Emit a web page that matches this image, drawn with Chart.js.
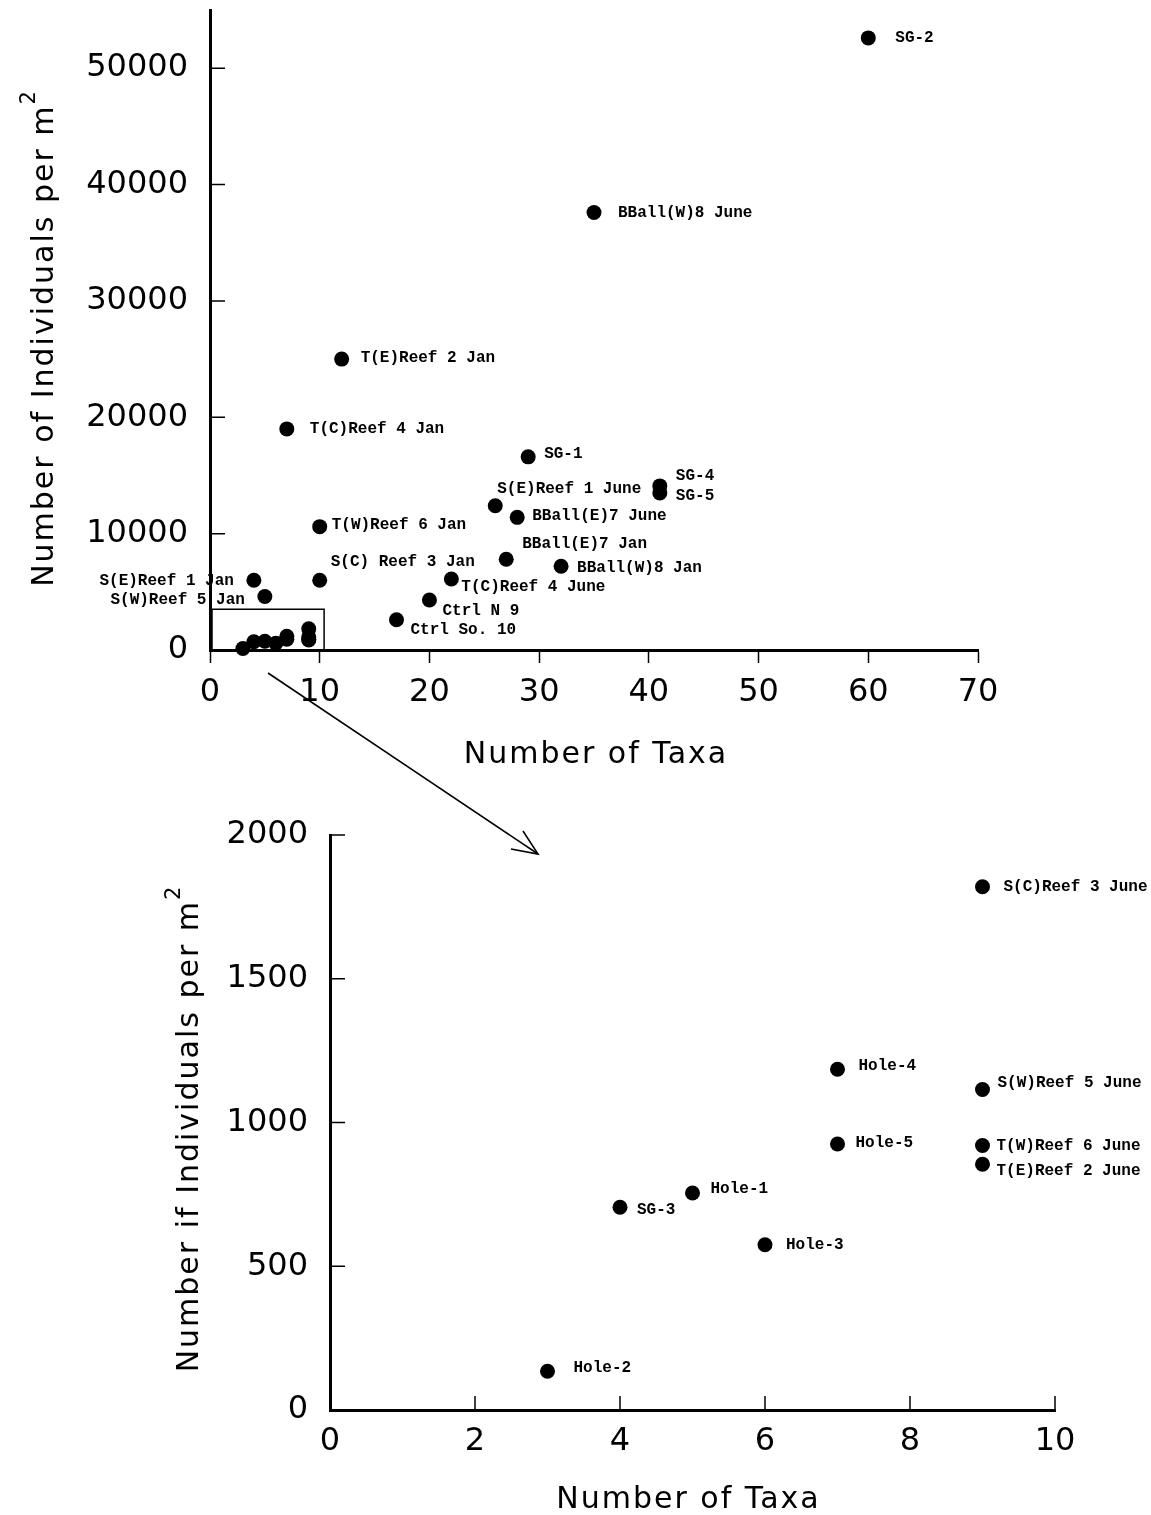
<!DOCTYPE html>
<html>
<head>
<meta charset="utf-8">
<script src="https://cdn.jsdelivr.net/npm/chart.js@4.4.1/dist/chart.umd.min.js"></script>
<style>
  html, body { margin: 0; padding: 0; background: #fff; }
  #wrap { position: relative; width: 1151px; height: 1515px; overflow: hidden; }
  canvas { position: absolute; left: 0; }
  #topChart { top: 0; }
  #bottomChart { top: 780px; }
  #arrow { position: absolute; left: 0; top: 0; pointer-events: none; }
</style>
</head>
<body>
<div id="wrap">
  <canvas id="topChart" width="1151" height="780"></canvas>
  <canvas id="bottomChart" width="1151" height="735"></canvas>
  <svg id="arrow" width="1151" height="1515">
    <g stroke="#000" stroke-width="1.6" fill="none">
      <line x1="268" y1="673" x2="538" y2="854"/>
      <polyline points="511,849 538,854 523,831"/>
    </g>
  </svg>
</div>
<script>
// sampling sites, number of taxa, individuals per m2
const sites = [
    'SG-2', 'BBall(W)8 June', 'T(E)Reef 2 Jan', 'T(C)Reef 4 Jan', 'SG-1',
    'SG-4', 'SG-5', 'S(E)Reef 1 June', 'BBall(E)7 June', 'T(W)Reef 6 Jan',
    'BBall(E)7 Jan', 'BBall(W)8 Jan', 'S(E)Reef 1 Jan', 'S(C) Reef 3 Jan', 'T(C)Reef 4 June',
    'S(W)Reef 5 Jan', 'Ctrl N 9', 'Ctrl So. 10', 'S(C)Reef 3 June', 'Hole-4',
    'S(W)Reef 5 June', 'Hole-5', 'T(W)Reef 6 June', 'T(E)Reef 2 June', 'Hole-1',
    'SG-3', 'Hole-3', 'Hole-2'
];
const taxa = [60, 35, 12, 7, 29, 41, 41, 26, 28, 10, 27, 32, 4, 10, 22, 5, 20, 17, 9, 7, 9, 7, 9, 9, 5, 4, 6, 3];
const individuals = [52600, 37600, 25000, 19000, 16600, 14100, 13500, 12400, 11400, 10600,
    7800, 7200, 6000, 6000, 6100, 4600, 4300, 2600, 1820, 1185,
    1115, 925, 920, 855, 755, 705, 575, 135];

const topXTicks = [0, 10, 20, 30, 40, 50, 60, 70];
const topYTicks = [0, 10000, 20000, 30000, 40000, 50000];
const bottomXTicks = [0, 2, 4, 6, 8, 10];
const bottomYTicks = [0, 500, 1000, 1500, 2000];

// label placement: [dx, dy, align]
const topLabelPlace = {
    'SG-2': [27, 0], 'BBall(W)8 June': [24, 0], 'T(E)Reef 2 Jan': [19, -1],
    'T(C)Reef 4 Jan': [23, 0], 'SG-1': [16, -3], 'SG-4': [16, -10], 'SG-5': [16, 3],
    'S(E)Reef 1 June': [2, -17], 'BBall(E)7 June': [15, -1], 'T(W)Reef 6 Jan': [12, -2],
    'BBall(E)7 Jan': [16, -15], 'BBall(W)8 Jan': [16, 2], 'S(E)Reef 1 Jan': [-20, 1, 'right'],
    'S(C) Reef 3 Jan': [11, -18], 'T(C)Reef 4 June': [10, 8], 'S(W)Reef 5 Jan': [-20, 3, 'right'],
    'Ctrl N 9': [13, 11], 'Ctrl So. 10': [14, 10]
};
const bottomLabelPlace = {
    'S(C)Reef 3 June': [21, 0], 'Hole-4': [21, -3], 'S(W)Reef 5 June': [15, -6],
    'Hole-5': [18, -1], 'T(W)Reef 6 June': [14, 0], 'T(E)Reef 2 June': [14, 7],
    'Hole-1': [18, -4], 'SG-3': [17, 3], 'Hole-3': [21, 0], 'Hole-2': [26, -3]
};

const allPoints = sites.map((s, i) => ({ x: taxa[i], y: individuals[i], name: s }));
const insetPoints = allPoints.filter(p => p.x <= 10 && p.y <= 2000);

const TICK_FONT = { family: '"DejaVu Sans"', size: 32, weight: 'normal' };

const pointLabels = {
    id: 'pointLabels',
    afterDatasetsDraw(chart, args, opts) {
        const ctx = chart.ctx;
        const meta = chart.getDatasetMeta(0);
        const pts = chart.data.datasets[0].data;
        ctx.save();
        ctx.font = 'bold 16px "Liberation Mono"';
        ctx.fillStyle = '#000';
        ctx.textBaseline = 'middle';
        meta.data.forEach((el, i) => {
            const pos = opts.place[pts[i].name];
            if (!pos) return;
            ctx.textAlign = pos[2] || 'left';
            ctx.fillText(pts[i].name, el.x + pos[0], el.y + pos[1]);
        });
        ctx.restore();
    }
};

const axisExtras = {
    id: 'axisExtras',
    afterDraw(chart, args, opts) {
        const { ctx, chartArea: a, scales: { x, y } } = chart;
        ctx.save();
        ctx.strokeStyle = '#000';
        ctx.lineWidth = 1.5;
        ctx.beginPath();
        if (opts.yTicksIn) {
            y.ticks.forEach(t => {
                if (t.value === 0) return;
                const py = y.getPixelForValue(t.value);
                ctx.moveTo(a.left, py);
                ctx.lineTo(a.left + 15, py);
            });
        }
        if (opts.xTicksIn) {
            x.ticks.forEach(t => {
                if (t.value === 0) return;
                const px = x.getPixelForValue(t.value);
                ctx.moveTo(px, a.bottom);
                ctx.lineTo(px, a.bottom - 14);
            });
        }
        if (opts.inset) {
            const l = x.getPixelForValue(0), r = x.getPixelForValue(opts.inset[0]);
            const t = y.getPixelForValue(opts.inset[1]), b = y.getPixelForValue(0);
            ctx.rect(l + 2, t, r - l - 2, b - t);
        }
        ctx.stroke();

        // axis titles
        ctx.fillStyle = '#000';
        ctx.letterSpacing = '2px';
        ctx.font = '30px "DejaVu Sans"';
        ctx.textAlign = 'center';
        ctx.textBaseline = 'middle';
        ctx.fillText(opts.xTitle, (a.left + a.right) / 2 + opts.xTitleShift, a.bottom + opts.xTitleGap);

        ctx.translate(a.left - opts.yTitleGap, (a.top + a.bottom) / 2 + opts.yTitleShift);
        ctx.rotate(-Math.PI / 2);
        const w = ctx.measureText(opts.yTitle).width;
        ctx.font = '21px "DejaVu Sans"';
        const w2 = ctx.measureText('2').width;
        const start = -(w + w2) / 2;
        ctx.textAlign = 'left';
        ctx.fillText('2', start + w, -15);
        ctx.font = '30px "DejaVu Sans"';
        ctx.fillText(opts.yTitle, start, 0);
        ctx.restore();
    }
};

function baseOptions(cfg) {
    return {
        responsive: false,
        animation: false,
        events: [],
        layout: { padding: cfg.padding },
        plugins: {
            legend: { display: false },
            tooltip: { enabled: false },
            pointLabels: { place: cfg.place },
            axisExtras: cfg.extras
        },
        scales: {
            x: {
                type: 'linear',
                min: cfg.xTicks[0],
                max: cfg.xTicks[cfg.xTicks.length - 1],
                afterBuildTicks: s => { s.ticks = cfg.xTicks.map(v => ({ value: v })); },
                afterFit: s => { s.height = cfg.xHeight; s.paddingLeft = 0; s.paddingRight = 0; },
                border: { display: true, color: '#000', width: 3 },
                grid: {
                    drawOnChartArea: false,
                    drawTicks: cfg.xTicksOut,
                    tickLength: 13,
                    tickWidth: 1.5,
                    tickColor: '#000'
                },
                ticks: {
                    padding: cfg.xPad,
                    color: '#000',
                    font: TICK_FONT,
                    maxRotation: 0,
                    autoSkip: false,
                    callback: v => String(v)
                }
            },
            y: {
                type: 'linear',
                min: 0,
                max: cfg.yMax,
                afterBuildTicks: s => { s.ticks = cfg.yTicks.map(v => ({ value: v })); },
                afterFit: s => { s.width = cfg.yWidth; s.paddingTop = 0; s.paddingBottom = 0; },
                border: { display: true, color: '#000', width: 3 },
                grid: { drawOnChartArea: false, drawTicks: false },
                ticks: {
                    padding: 22,
                    color: '#000',
                    font: TICK_FONT,
                    autoSkip: false,
                    callback: v => String(v)
                }
            }
        }
    };
}

function dataset(points) {
    return {
        datasets: [{
            data: points,
            pointRadius: 7.5,
            pointBackgroundColor: '#000',
            pointBorderWidth: 0,
            clip: false
        }]
    };
}

new Chart(document.getElementById('topChart'), {
    type: 'scatter',
    data: dataset(allPoints),
    options: baseOptions({
        padding: { top: 10, right: 173, left: 0, bottom: 0 },
        place: topLabelPlace,
        xTicks: topXTicks,
        yTicks: topYTicks,
        yMax: 55000,
        xHeight: 130,
        yWidth: 210,
        xTicksOut: true,
        xPad: 10,
        extras: {
            yTicksIn: true,
            xTicksIn: false,
            inset: [10.4, 3500],
            xTitle: 'Number of Taxa',
            xTitleShift: 2,
            xTitleGap: 105,
            yTitle: 'Number of Individuals per m',
            yTitleGap: 165,
            yTitleShift: 8
        }
    }),
    plugins: [pointLabels, axisExtras]
});

new Chart(document.getElementById('bottomChart'), {
    type: 'scatter',
    data: dataset(insetPoints),
    options: baseOptions({
        padding: { top: 55, right: 96, left: 0, bottom: 0 },
        place: bottomLabelPlace,
        xTicks: bottomXTicks,
        yTicks: bottomYTicks,
        yMax: 2000,
        xHeight: 105,
        yWidth: 330,
        xTicksOut: false,
        xPad: 12,
        extras: {
            yTicksIn: true,
            xTicksIn: true,
            inset: null,
            xTitle: 'Number of Taxa',
            xTitleShift: -4,
            xTitleGap: 90,
            yTitle: 'Number if Individuals per m',
            yTitleGap: 140,
            yTitleShift: 6
        }
    }),
    plugins: [pointLabels, axisExtras]
});
</script>
</body>
</html>
